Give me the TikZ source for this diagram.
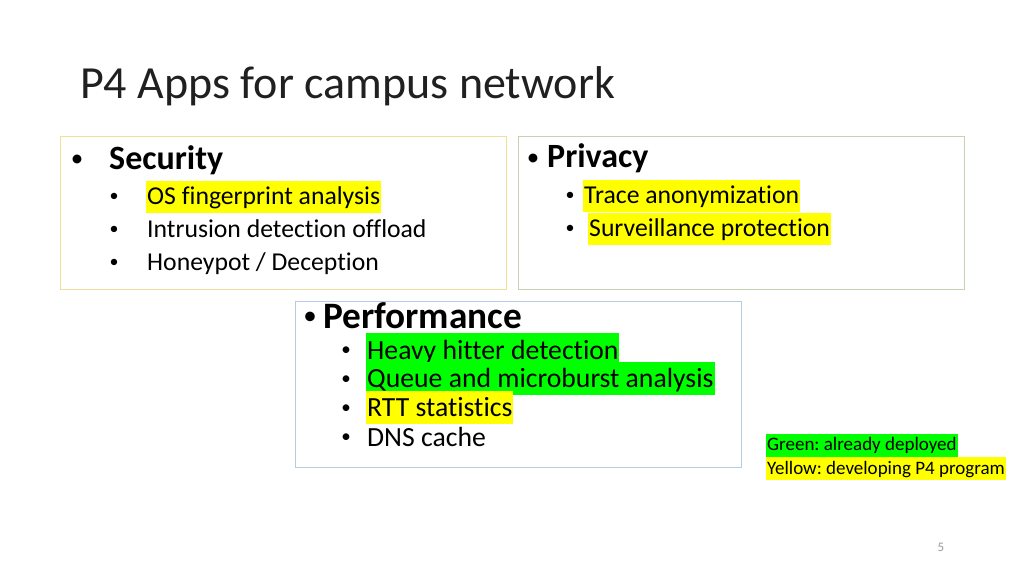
\documentclass[tikz,border=0pt]{standalone}
\usepackage{fontspec}
\setmainfont{Carlito}[Ligatures=NoCommon]
\frenchspacing
\definecolor{hlY}{HTML}{FFFF00}
\definecolor{hlG}{HTML}{00FF00}
\definecolor{bdY}{HTML}{F0DE9C}
\definecolor{bdG}{HTML}{C4D3B2}
\definecolor{bdB}{HTML}{B7CCE2}
\definecolor{titlec}{HTML}{202020}
\definecolor{pagec}{HTML}{9A9A9A}
\begin{document}
\begin{tikzpicture}[x=1pt,y=-1pt,
  box/.style={draw=#1, line width=1pt},
  txt/.style={anchor=base west, inner sep=0pt, font=\fontsize{#1}{#1}\selectfont},
  bul/.style={anchor=center, inner sep=0pt, font=\fontsize{#1}{#1}\selectfont},
  hl/.style={inner xsep=1pt, inner ysep=0pt, fill=#1},
]
\useasboundingbox (0,0) rectangle (1024,576);
\fill[white] (0,0) rectangle (1024,576);
% title
\node[txt=46, text=titlec] (title) at (80,98.5) {P4 Apps for campus network};
% boxes
\draw[box=bdY] (60,136) rectangle (506,289);
\draw[box=bdG] (518,136) rectangle (964,289);
\draw[box=bdB] (295,301) rectangle (741,467);
% security
\node[bul=25] (sb) at (77,161) {•};
\node[txt=34] (sec) at (109,169.3) {\bfseries Security};
\node[bul=18] (sb1) at (114,197) {•};
\node[bul=18] (sb2) at (114,230.3) {•};
\node[bul=18] (sb3) at (114,263.3) {•};
\node[txt=25.7, hl=hlY, text height=23pt, text depth=9pt] (s1) at (146,204) {OS fingerprint analysis};
\node[txt=25.7] (s2) at (147,237.3) {Intrusion detection offload};
\node[txt=25.7] (s3) at (147,270.3) {Honeypot / Deception};
% privacy
\node[bul=25] (pb) at (533,159.5) {•};
\node[txt=34] (pri) at (547,167.3) {\bfseries Privacy};
\node[bul=18] (pb1) at (570,196.5) {•};
\node[bul=18] (pb2) at (570,229.5) {•};
\node[txt=25.7, hl=hlY, text height=23pt, text depth=9pt] (p1) at (583,203.3) {Trace anonymization};
\node[txt=25.7, hl=hlY, text height=23pt, text depth=9pt] (p2) at (588,236.3) {Surveillance protection};
% performance
\node[bul=27] (fb) at (310,318.5) {•};
\node[txt=37.3] (per) at (323,328.3) {\bfseries Performance};
\node[bul=19] (fb1) at (346,351.5) {•};
\node[bul=19] (fb2) at (346,380.5) {•};
\node[bul=19] (fb3) at (346,409.5) {•};
\node[bul=19] (fb4) at (346,438.5) {•};
\node[txt=27.7, hl=hlG, text height=26pt, text depth=7pt] (f1) at (366,359) {Heavy hitter detection};
\node[txt=27.7, hl=hlG, text height=26pt, text depth=7pt] (f2) at (366,387.5) {Queue and microburst analysis};
\node[txt=27.7, hl=hlY, text height=25pt, text depth=8pt] (f3) at (366,416) {RTT statistics};
\node[txt=27.7] (f4) at (367,446) {DNS cache};
% legend
\node[txt=19, hl=hlG, text height=16.7pt, text depth=6.3pt] (lg) at (766,450.7) {Green: already deployed};
\node[txt=19, hl=hlY, text height=17pt, text depth=6pt] (ly) at (766,474) {Yellow: developing P4 program};
% page
\node[bul=13, text=pagec] (pg) at (941,547.5) {5};
\end{tikzpicture}
\end{document}
